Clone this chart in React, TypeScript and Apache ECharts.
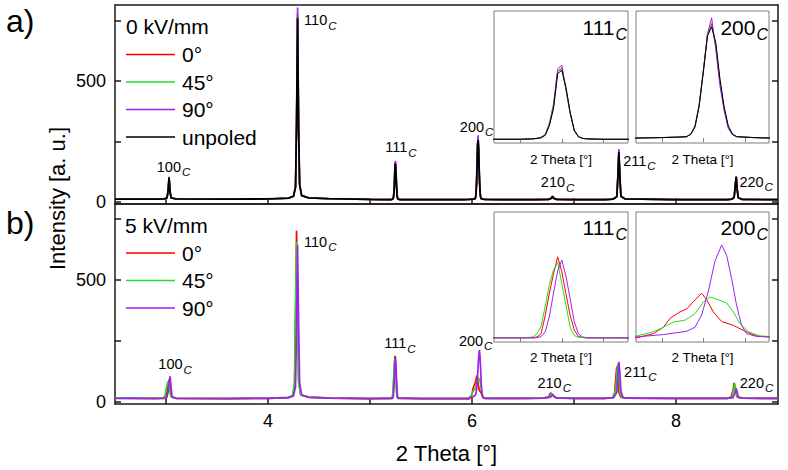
import React, { useEffect, useRef } from "react";
import * as echarts from "echarts";

const FONT = '"Liberation Sans", Arial, Helvetica, sans-serif';

// ---------- data: 0 kV/mm (panel a), [2 Theta, intensity] ----------
const a0: number[][] = [[2.5,10],[2.9,10],[2.98,11],[3.01,15],[3.02,42],[3.03,101],[3.04,41],[3.05,15],[3.1,11],[3.6,10],[4.0,11],[4.2,14],[4.25,22],[4.27,60],[4.28,325],[4.29,780],[4.3,305],[4.31,70],[4.33,25],[4.4,15],[4.6,12],[5.0,9],[5.17,8],[5.2,8],[5.215,9],[5.22,10],[5.225,12],[5.23,17],[5.235,39],[5.24,78],[5.245,155],[5.25,162],[5.255,118],[5.26,66],[5.265,27],[5.27,14],[5.275,10],[5.28,9],[5.3,8],[5.5,8],[5.9,8],[5.97,9],[6.0,10],[6.02,11],[6.03,12],[6.035,18],[6.04,34],[6.045,81],[6.05,156],[6.055,238],[6.06,262],[6.065,212],[6.07,132],[6.075,74],[6.08,33],[6.085,17],[6.09,12],[6.11,10],[6.13,9],[6.3,8],[6.6,8],[6.75,9],[6.78,14],[6.79,22],[6.8,14],[6.83,9],[7.0,8],[7.3,8],[7.38,10],[7.42,20],[7.43,102],[7.44,210],[7.45,100],[7.46,22],[7.5,11],[8.0,8],[8.5,8],[8.55,10],[8.57,18],[8.58,61],[8.59,104],[8.6,50],[8.61,16],[8.65,9],[9.0,8]];
const a45: number[][] = [[2.5,10],[2.9,10],[2.98,11],[3.01,15],[3.02,42],[3.03,101],[3.04,41],[3.05,15],[3.1,11],[3.6,10],[4.0,11],[4.2,14],[4.25,22],[4.27,60],[4.28,322],[4.29,770],[4.3,302],[4.31,70],[4.33,25],[4.4,15],[4.6,12],[5.0,9],[5.17,8],[5.2,8],[5.215,9],[5.22,10],[5.225,13],[5.23,19],[5.235,44],[5.24,85],[5.245,156],[5.25,158],[5.255,116],[5.26,65],[5.265,27],[5.27,14],[5.275,10],[5.28,9],[5.3,8],[5.5,8],[5.9,8],[5.97,9],[6.0,10],[6.02,11],[6.03,12],[6.035,18],[6.04,36],[6.045,84],[6.05,158],[6.055,236],[6.06,258],[6.065,212],[6.07,132],[6.075,74],[6.08,33],[6.085,17],[6.09,12],[6.11,10],[6.13,9],[6.3,8],[6.6,8],[6.75,9],[6.78,14],[6.79,22],[6.8,14],[6.83,9],[7.0,8],[7.3,8],[7.38,10],[7.42,20],[7.43,101],[7.44,208],[7.45,100],[7.46,22],[7.5,11],[8.0,8],[8.5,8],[8.55,10],[8.57,18],[8.58,61],[8.59,103],[8.6,50],[8.61,16],[8.65,9],[9.0,8]];
const a90: number[][] = [[2.5,10],[2.9,10],[2.98,11],[3.01,15],[3.02,44],[3.03,103],[3.04,42],[3.05,15],[3.1,11],[3.6,10],[4.0,11],[4.2,14],[4.25,22],[4.27,62],[4.28,330],[4.29,805],[4.3,310],[4.31,72],[4.33,25],[4.4,15],[4.6,12],[5.0,9],[5.17,8],[5.2,8],[5.215,9],[5.22,10],[5.225,12],[5.23,18],[5.235,40],[5.24,82],[5.245,160],[5.25,168],[5.255,115],[5.26,64],[5.265,26],[5.27,13],[5.275,10],[5.28,9],[5.3,8],[5.5,8],[5.9,8],[5.97,9],[6.0,10],[6.02,11],[6.03,12],[6.035,17],[6.04,33],[6.045,82],[6.05,158],[6.055,240],[6.06,275],[6.065,205],[6.07,125],[6.075,70],[6.08,30],[6.085,16],[6.09,12],[6.11,10],[6.13,9],[6.3,8],[6.6,8],[6.75,9],[6.78,14],[6.79,23],[6.8,14],[6.83,9],[7.0,8],[7.3,8],[7.38,10],[7.42,21],[7.43,105],[7.44,218],[7.45,102],[7.46,22],[7.5,11],[8.0,8],[8.5,8],[8.55,10],[8.57,18],[8.58,62],[8.59,106],[8.6,50],[8.61,16],[8.65,9],[9.0,8]];
const aUnpoled: number[][] = [[2.5,10],[2.9,10],[2.98,11],[3.01,15],[3.02,42],[3.03,100],[3.04,40],[3.05,15],[3.1,11],[3.6,10],[4.0,11],[4.2,14],[4.25,22],[4.27,60],[4.28,320],[4.29,760],[4.3,300],[4.31,70],[4.33,25],[4.4,15],[4.6,12],[5.0,9],[5.17,8],[5.2,8],[5.215,9],[5.22,10],[5.225,11],[5.23,17],[5.235,38],[5.24,75],[5.245,150],[5.25,157],[5.255,120],[5.26,67],[5.265,28],[5.27,14],[5.275,10],[5.28,9],[5.3,8],[5.5,8],[5.9,8],[5.97,9],[6.0,10],[6.02,11],[6.03,12],[6.035,18],[6.04,35],[6.045,80],[6.05,155],[6.055,235],[6.06,255],[6.065,220],[6.07,140],[6.075,78],[6.08,36],[6.085,18],[6.09,12],[6.11,10],[6.13,9],[6.3,8],[6.6,8],[6.75,9],[6.78,14],[6.79,22],[6.8,14],[6.83,9],[7.0,8],[7.3,8],[7.38,10],[7.42,20],[7.43,100],[7.44,205],[7.45,100],[7.46,22],[7.5,11],[8.0,8],[8.5,8],[8.55,10],[8.57,18],[8.58,60],[8.59,102],[8.6,50],[8.61,16],[8.65,9],[9.0,8]];

// ---------- data: 5 kV/mm (panel b) ----------
const b0: number[][] = [[2.5,16],[2.9,15],[2.98,16],[3.0,20],[3.01,40],[3.02,75],[3.03,92],[3.04,60],[3.05,22],[3.1,15],[3.6,14],[4.0,15],[4.2,18],[4.24,25],[4.26,62],[4.27,340],[4.28,702],[4.29,420],[4.3,92],[4.32,30],[4.4,20],[4.6,16],[5.0,14],[5.2,15],[5.215,15],[5.22,17],[5.225,24],[5.23,64],[5.235,112],[5.24,154],[5.245,190],[5.25,158],[5.255,110],[5.26,64],[5.265,32],[5.27,18],[5.275,16],[5.28,15],[5.5,14],[5.9,14],[5.97,13],[5.99,22],[6.002,36],[6.01,55],[6.022,69],[6.03,75],[6.038,91],[6.048,109],[6.054,95],[6.062,69],[6.072,48],[6.086,40],[6.098,29],[6.114,17],[6.128,15],[6.2,15],[6.5,15],[6.7,16],[6.75,20],[6.77,38],[6.79,28],[6.82,18],[7.0,15],[7.3,15],[7.38,18],[7.4,40],[7.41,100],[7.42,145],[7.43,110],[7.44,40],[7.46,20],[7.5,16],[8.0,15],[8.5,15],[8.54,20],[8.56,50],[8.57,79],[8.58,50],[8.6,20],[8.65,16],[9.0,15]];
const b45: number[][] = [[2.5,17],[2.9,16],[2.97,17],[2.99,25],[3.0,50],[3.01,70],[3.02,85],[3.03,70],[3.04,35],[3.06,18],[3.1,16],[3.6,15],[4.0,16],[4.2,19],[4.24,28],[4.26,80],[4.27,400],[4.28,657],[4.29,380],[4.3,80],[4.32,30],[4.4,20],[4.6,17],[5.0,15],[5.2,15],[5.21,16],[5.215,17],[5.22,24],[5.225,40],[5.23,84],[5.235,130],[5.24,162],[5.245,178],[5.25,132],[5.255,86],[5.26,38],[5.265,20],[5.27,16],[5.28,15],[5.5,15],[5.9,15],[5.97,17],[5.99,26],[6.002,36],[6.014,47],[6.028,51],[6.04,65],[6.05,90],[6.058,101],[6.068,95],[6.078,88],[6.086,69],[6.094,44],[6.104,26],[6.118,17],[6.13,16],[6.2,15],[6.5,15],[6.7,16],[6.76,22],[6.78,35],[6.8,25],[6.83,17],[7.0,15],[7.3,15],[7.38,18],[7.41,50],[7.42,120],[7.43,156],[7.44,110],[7.45,40],[7.47,20],[7.5,16],[8.0,15],[8.5,15],[8.55,20],[8.565,50],[8.575,75],[8.585,55],[8.6,22],[8.65,16],[9.0,15]];
const b90: number[][] = [[2.5,15],[2.9,14],[2.99,15],[3.01,20],[3.02,40],[3.03,80],[3.04,105],[3.05,60],[3.06,22],[3.1,15],[3.6,14],[4.0,15],[4.2,18],[4.25,25],[4.27,62],[4.28,300],[4.29,643],[4.3,330],[4.31,80],[4.33,28],[4.4,19],[4.6,16],[5.0,14],[5.2,15],[5.22,15],[5.225,18],[5.23,28],[5.235,62],[5.24,112],[5.245,160],[5.25,183],[5.255,148],[5.26,100],[5.265,50],[5.27,24],[5.275,17],[5.28,15],[5.5,14],[5.9,14],[5.97,15],[6.002,20],[6.03,27],[6.04,36],[6.048,62],[6.056,113],[6.064,178],[6.072,213],[6.078,191],[6.084,141],[6.09,83],[6.096,40],[6.102,22],[6.114,16],[6.128,15],[6.2,15],[6.5,15],[6.7,16],[6.77,20],[6.79,32],[6.81,20],[6.84,16],[7.0,15],[7.3,15],[7.39,18],[7.42,40],[7.43,110],[7.44,165],[7.45,120],[7.46,45],[7.48,20],[7.5,16],[8.0,15],[8.5,15],[8.56,18],[8.575,35],[8.59,56],[8.6,40],[8.61,20],[8.65,16],[9.0,15]];

// ---------- peak annotations ----------
const peakHkl = ["100", "110", "111", "200", "210", "211", "220"];
const peakThetaA = [3.03, 4.29, 5.25, 6.06, 6.79, 7.44, 8.59];
const peakTopA = [103, 805, 168, 275, 22, 218, 106];
const peakThetaB = [3.04, 4.28, 5.245, 6.072, 6.77, 7.44, 8.57];
const peakTopB = [105, 702, 190, 213, 38, 165, 79];

// ---------- axes ----------
const xTicks = [3, 4, 5, 6, 7, 8];
const xTickLabels = [4, 6, 8];
const yTicks = [0, 250, 500, 750];
const yTickLabels = [0, 500];
const inset111Ticks = [5.2, 5.25, 5.3];
const inset200Ticks = [6.0, 6.05, 6.1];
const legendA = ["0°", "45°", "90°", "unpoled"];
const legendB = ["0°", "45°", "90°"];

// ---------- styles / layout ----------
const AXIS = "#1a1a1a";
const TXT = "#000000";
const GRAY = "#7d7d7d";
const RED = "#ff0000";
const GREEN = "#22dd22";
const PURPLE = "#a020f0";
const BLACK = "#000000";

const labelOffsetA = [[4.5, -10], [22.7, 13], [5.5, -14], [-1.5, -8.5], [5, -14], [20.5, 11.7], [20, 5.7]];
const labelOffsetB = [[5, -12], [23.7, 11], [5, -12.4], [-3.7, -9.3], [3.7, -10], [21.4, 10], [22.4, 0]];

function buildOption(): any {
  const axLine = { color: AXIS, width: 1.5 };
  const mainX = (grid: number, labels: boolean) => ({
    type: "value", gridIndex: grid, min: 2.5, max: 9, position: "bottom",
    axisLine: { show: true, onZero: false, lineStyle: axLine },
    axisTick: { show: true, inside: true, length: 6, customValues: xTicks, lineStyle: axLine },
    axisLabel: { show: labels, customValues: xTickLabels, margin: 8, fontSize: 18, color: TXT, fontFamily: FONT },
    splitLine: { show: false },
    ...(labels
      ? { name: "2 Theta [°]", nameLocation: "middle", nameGap: 38, nameTextStyle: { fontSize: 22, color: TXT, fontFamily: FONT } }
      : {}),
  });
  const mirrorX = (grid: number) => ({
    type: "value", gridIndex: grid, min: 2.5, max: 9, position: "top",
    axisLine: { show: true, onZero: false, lineStyle: axLine },
    axisTick: { show: false }, axisLabel: { show: false }, splitLine: { show: false },
  });
  const mainY = (grid: number, min: number, max: number, pos: string, labels: boolean) => ({
    type: "value", gridIndex: grid, min, max, position: pos,
    axisLine: { show: true, onZero: false, lineStyle: axLine },
    axisTick: { show: true, inside: true, length: 6, customValues: yTicks, lineStyle: axLine },
    axisLabel: { show: labels, customValues: yTickLabels, margin: 9, fontSize: 18, color: TXT, fontFamily: FONT },
    splitLine: { show: false },
  });
  const insetX = (grid: number, min: number, max: number, ticks: number[], gap: number) => ({
    type: "value", gridIndex: grid, min, max,
    axisLine: { show: false },
    axisTick: { show: true, inside: true, length: 4, customValues: ticks, lineStyle: { color: GRAY, width: 1 } },
    axisLabel: { show: false }, splitLine: { show: false },
    name: "2 Theta [°]", nameLocation: "middle", nameGap: gap,
    nameTextStyle: { fontSize: 13.5, color: TXT, fontFamily: FONT },
  });
  const insetY = (grid: number, min: number, max: number) => ({ type: "value", gridIndex: grid, min, max, show: false });

  const line = (name: string, data: number[][], color: string, xi: number, yi: number, width: number, z: number) => ({
    type: "line", name, data, xAxisIndex: xi, yAxisIndex: yi, symbol: "none", showSymbol: false,
    lineStyle: { color, width }, itemStyle: { color }, z, silent: true, clip: true,
  });

  const rich = {
    n: { fontSize: 14.5, color: TXT, fontFamily: FONT, opacity: 1 },
    c: { fontSize: 11.5, color: TXT, fontFamily: FONT, fontStyle: "italic", padding: [11, 0, 0, 1], opacity: 1 },
  };
  const labels = (xi: number, yi: number, th: number[], top: number[], offs: number[][]) => ({
    type: "scatter", xAxisIndex: xi, yAxisIndex: yi, symbol: "circle", symbolSize: 0, silent: true, z: 6,
    itemStyle: { color: "#ffffff", opacity: 1 },
    data: peakHkl.map((h, i) => ({ name: h, value: [th[i], top[i]], label: { offset: offs[i] } })),
    label: {
      show: true, position: "inside", color: TXT, opacity: 1, textBorderWidth: 0,
      formatter: (p: any) => `{n|${p.name}}{c|C}`, rich,
    },
  });

  const legendCommon = {
    orient: "vertical", left: 126, icon: "rect", itemWidth: 49, itemHeight: 1.6, itemGap: 6.5, padding: 0,
    selectedMode: false,
    textStyle: { fontSize: 21, color: TXT, fontFamily: FONT, padding: [0, 0, 0, 2] },
  };

  const titleRich = {
    n: { fontSize: 21, fill: TXT, fontFamily: FONT },
    c: { fontSize: 16, fill: TXT, fontFamily: FONT, fontStyle: "italic", padding: [14, 0, 0, 1] },
  };
  const text = (x: number, y: number, t: string, size: number, extra: any = {}) => ({
    type: "text", x, y, silent: true, z: 10,
    style: { text: t, fontSize: size, fontFamily: FONT, fill: TXT, align: "left", verticalAlign: "middle", ...extra },
  });

  return {
    animation: false,
    backgroundColor: "#ffffff",
    grid: [
      { left: 115, top: 5, width: 663, height: 199, show: false },
      { left: 115, top: 204, width: 663, height: 200, show: false },
      { left: 494, top: 11, width: 134, height: 132, show: true, borderColor: GRAY, borderWidth: 1, backgroundColor: "#fff" },
      { left: 636, top: 11, width: 133, height: 132, show: true, borderColor: GRAY, borderWidth: 1, backgroundColor: "#fff" },
      { left: 494, top: 212, width: 134, height: 130, show: true, borderColor: GRAY, borderWidth: 1, backgroundColor: "#fff" },
      { left: 636, top: 212, width: 133, height: 130, show: true, borderColor: GRAY, borderWidth: 1, backgroundColor: "#fff" },
    ],
    xAxis: [
      mainX(0, false), mirrorX(0), mainX(1, true), mirrorX(1),
      insetX(2, 5.168, 5.33, inset111Ticks, 9.5), insetX(3, 5.969, 6.129, inset200Ticks, 9.5),
      insetX(4, 5.168, 5.33, inset111Ticks, 8), insetX(5, 5.969, 6.129, inset200Ticks, 8),
    ],
    yAxis: [
      mainY(0, -10, 815, "left", true), mainY(0, -10, 815, "right", false),
      mainY(1, -8, 812, "left", true), mainY(1, -8, 812, "right", false),
      insetY(2, 0, 285), insetY(3, -2, 290), insetY(4, 6, 287), insetY(5, 4, 284),
    ],
    legend: [
      { ...legendCommon, top: 44, data: legendA },
      { ...legendCommon, top: 242.5, data: legendB },
    ],
    series: [
      line("0°", a0, RED, 0, 0, 1.6, 2),
      line("45°", a45, GREEN, 0, 0, 1.6, 2),
      line("90°", a90, PURPLE, 0, 0, 1.6, 2),
      line("unpoled", aUnpoled, BLACK, 0, 0, 1.8, 3),
      line("0°", b0, RED, 2, 2, 1.7, 2),
      line("45°", b45, GREEN, 2, 2, 1.7, 2),
      line("90°", b90, PURPLE, 2, 2, 1.7, 3),
      // insets, panel a
      line("0°", a0, RED, 4, 4, 1, 4),
      line("45°", a45, GREEN, 4, 4, 1, 4),
      line("90°", a90, PURPLE, 4, 4, 1, 4),
      line("unpoled", aUnpoled, BLACK, 4, 4, 1, 4),
      line("0°", a0, RED, 5, 5, 1, 4),
      line("45°", a45, GREEN, 5, 5, 1, 4),
      line("90°", a90, PURPLE, 5, 5, 1, 4),
      line("unpoled", aUnpoled, BLACK, 5, 5, 1, 4),
      // insets, panel b
      line("0°", b0, RED, 6, 6, 1, 4),
      line("45°", b45, GREEN, 6, 6, 1, 4),
      line("90°", b90, PURPLE, 6, 6, 1, 4),
      line("0°", b0, RED, 7, 7, 1, 4),
      line("45°", b45, GREEN, 7, 7, 1, 4),
      line("90°", b90, PURPLE, 7, 7, 1, 4),
      labels(0, 0, peakThetaA, peakTopA, labelOffsetA),
      labels(2, 2, peakThetaB, peakTopB, labelOffsetB),
    ],
    graphic: [
      text(6, 21, "a)", 32),
      text(6, 223, "b)", 32),
      {
        type: "text", x: 57, y: 198.5, rotation: Math.PI / 2, silent: true, z: 10,
        style: { text: "Intensity [a. u.]", fontSize: 22, fontFamily: FONT, fill: TXT, align: "center", verticalAlign: "middle" },
      },
      text(126, 26.7, "0 kV/mm", 21),
      text(125, 225, "5 kV/mm", 21),
      text(627, 27.3, "{n|111}{c|C}", 21, { align: "right", rich: titleRich }),
      text(768, 27.3, "{n|200}{c|C}", 21, { align: "right", rich: titleRich }),
      text(627, 227, "{n|111}{c|C}", 21, { align: "right", rich: titleRich }),
      text(768, 227, "{n|200}{c|C}", 21, { align: "right", rich: titleRich }),
    ],
  };
}

export default function App() {
  const ref = useRef<HTMLDivElement>(null);
  useEffect(() => {
    document.body.style.margin = "0";
    const chart = echarts.init(ref.current as HTMLDivElement, null, { renderer: "svg" });
    chart.setOption(buildOption());
    return () => chart.dispose();
  }, []);
  return <div ref={ref} style={{ width: 788, height: 470 }} />;
}
